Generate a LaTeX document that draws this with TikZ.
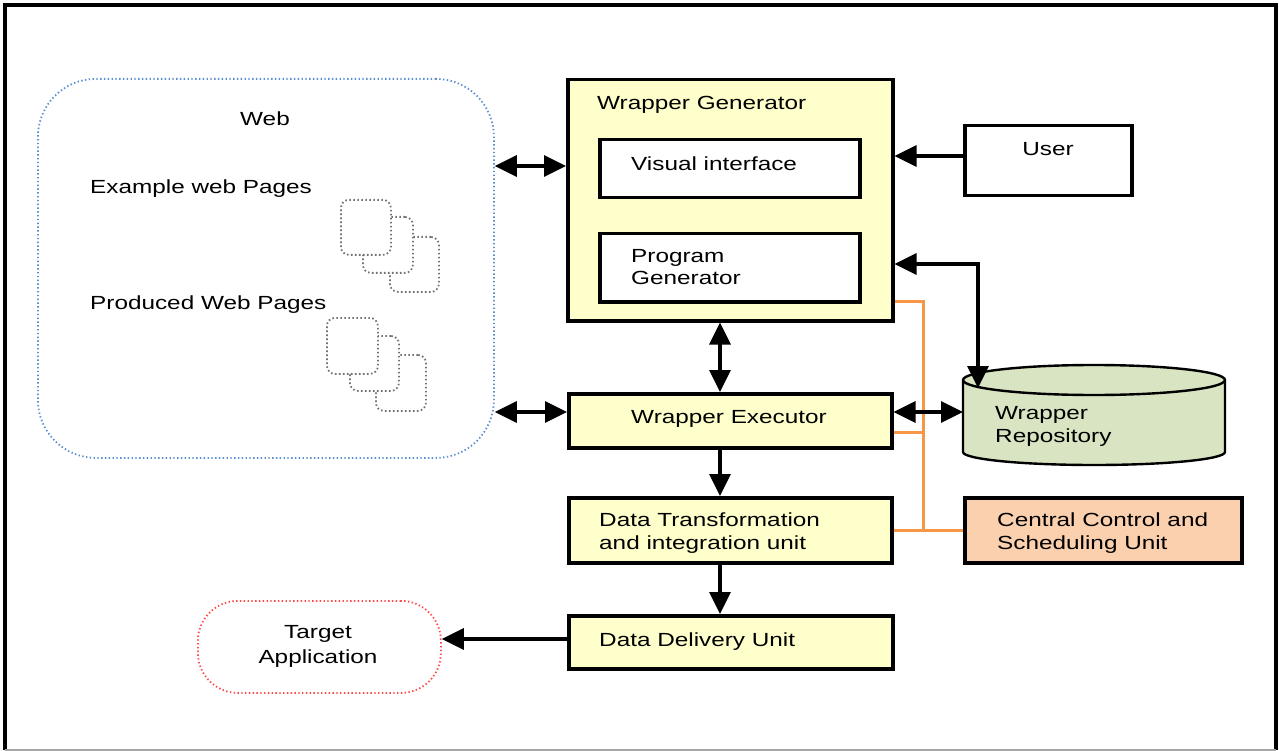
\documentclass[tikz,border=0pt]{standalone}
\usepackage{fontspec}
\setmainfont{Liberation Sans}[FakeStretch=1.28]
\usetikzlibrary{arrows.meta}
\definecolor{wyellow}{HTML}{FFFFCC}
\definecolor{peach}{HTML}{FBD0AE}
\definecolor{repogreen}{HTML}{D8E4C2}
\definecolor{busorange}{HTML}{F79646}
\definecolor{webblue}{HTML}{5B8FD0}
\definecolor{tgtred}{HTML}{FF4A4A}
\begin{document}
\begin{tikzpicture}[x=1pt,y=-1pt,
  txt/.style={inner sep=0pt, font=\fontsize{19}{22.5}\selectfont, align=left},
  box/.style={draw=black, line width=3.5pt, fill=wyellow, anchor=north west, inner sep=0pt},
  wbox/.style={box, fill=white},
  webbox/.style={draw=webblue, line width=1.8pt, dash pattern=on 1.4pt off 2.4pt, rounded corners=58pt, anchor=north west, inner sep=0pt},
  tgtbox/.style={draw=tgtred, line width=1.8pt, dash pattern=on 1.4pt off 2.4pt, rounded corners=40pt, anchor=north west, inner sep=0pt},
  page/.style={draw=black!55, fill=white, line width=1.8pt, dash pattern=on 1.6pt off 2.4pt, rounded corners=8pt, anchor=north west, inner sep=0pt},
  arr/.style={line width=3.4pt, -{Triangle[length=22pt,width=21pt]}},
  darr/.style={line width=3.4pt, {Triangle[length=22pt,width=21pt]}-{Triangle[length=22pt,width=21pt]}},
  bus/.style={draw=busorange, line width=3pt}
]
\useasboundingbox (0,0) rectangle (1279,751);
% outer frame
\draw[line width=3.5pt] (5,750) -- (5,5) -- (1276,5) -- (1276,750);
\draw[line width=1.5pt, black!35] (5,750) -- (1276,750);

% Web
\node[webbox, minimum width=456pt, minimum height=379pt] (web) at (37,78) {};
\node[txt, anchor=north] (webt) at (265,112) {Web};
\node[txt, anchor=north west] (ext) at (90,180) {Example web Pages};
\node[txt, anchor=north west] (prt) at (90,296) {Produced Web Pages};
% page icons
\node[page, minimum width=49pt, minimum height=55pt] (p13) at (389,236) {};
\node[page, minimum width=50pt, minimum height=56pt] (p12) at (362,216) {};
\node[page, minimum width=50pt, minimum height=55pt] (p11) at (340,199) {};
\node[page, minimum width=50pt, minimum height=56pt] (p23) at (375,354) {};
\node[page, minimum width=49pt, minimum height=55pt] (p22) at (349,335) {};
\node[page, minimum width=51pt, minimum height=56pt] (p21) at (326,317) {};

% Wrapper generator
\node[box, minimum width=325pt, minimum height=241pt] (wg) at (566,78) {};
\node[txt, anchor=north west] (wgt) at (597,96) {Wrapper Generator};
\node[wbox, minimum width=260pt, minimum height=58pt] (vi) at (598,138) {};
\node[txt, anchor=north west] (vit) at (631,157) {Visual interface};
\node[wbox, minimum width=260pt, minimum height=68pt] (pg) at (598,232) {};
\node[txt, anchor=north west, font=\fontsize{19}{22}\selectfont] (pgt) at (631,249) {Program\\Generator};

% User
\node[wbox, minimum width=167pt, minimum height=70pt] (user) at (963,124) {};
\node[txt, anchor=north] (usert) at (1048,142) {User};

% Wrapper executor
\node[box, minimum width=323pt, minimum height=54pt] (we) at (567,392) {};
\node[txt, anchor=north] (wet) at (729,410) {Wrapper Executor};

% Repository (cylinder)
\fill[repogreen] (963,380) -- (963,452) arc[start angle=180,end angle=360,x radius=131pt,y radius=13pt] -- (1225,380) arc[start angle=0,end angle=180,x radius=131pt,y radius=15pt] -- cycle;
\draw[line width=2.4pt] (963,380) -- (963,452) arc[start angle=180,end angle=360,x radius=131pt,y radius=13pt] -- (1225,380) arc[start angle=0,end angle=180,x radius=131pt,y radius=15pt] -- cycle;
\draw[line width=2.4pt] (963,380) arc[start angle=180,end angle=360,x radius=131pt,y radius=15pt];
\node[txt, anchor=north west, font=\fontsize{19}{23}\selectfont] (repo) at (995,406) {Wrapper\\Repository};
\coordinate (repotop) at (978,388);
\coordinate (repoleft) at (963,412);

% Data transformation
\node[box, minimum width=323pt, minimum height=65pt] (dt) at (567,496) {};
\node[txt, anchor=north west] (dtt) at (599,513) {Data Transformation\\and integration unit};

% Central control
\node[box, fill=peach, minimum width=277pt, minimum height=65pt] (cc) at (963,496) {};
\node[txt, anchor=north west] (cct) at (997,513) {Central Control and\\Scheduling Unit};

% Data delivery
\node[box, minimum width=324pt, minimum height=53pt] (dd) at (567,614) {};
\node[txt, anchor=north west] (ddt) at (599,633) {Data Delivery Unit};

% Target application
\node[tgtbox, minimum width=243pt, minimum height=92pt] (target) at (197,600) {};
\node[txt, anchor=north, align=center, font=\fontsize{19}{25}\selectfont] (tgtt) at (318,625) {Target\\Application};

% orange control bus
\draw[bus] (wg.east |- 0,301) -- (923,301) -- (923,530);
\draw[bus] (we.east |- 0,432) -- (923,432);
\draw[bus] (dt.east |- 0,530) -- (cc.west |- 0,530);

% connectors
\draw[darr] (web.east |- 0,166) -- (wg.west |- 0,166);
\draw[arr] (user.west |- 0,156) -- (wg.east |- 0,156);
\draw[darr] (wg.south -| 720,0) -- (we.north -| 720,0);
\draw[darr] (web.east |- 0,412) -- (we.west |- 0,412);
\draw[darr] (we.east |- 0,412) -- (repoleft);
\draw[darr] (wg.east |- 0,264) -| (repotop);
\draw[arr] (we.south -| 720,0) -- (dt.north -| 720,0);
\draw[arr] (dt.south -| 720,0) -- (dd.north -| 720,0);
\draw[arr] (dd.west |- 0,639) -- (target.east |- 0,639);
\end{tikzpicture}
\end{document}
